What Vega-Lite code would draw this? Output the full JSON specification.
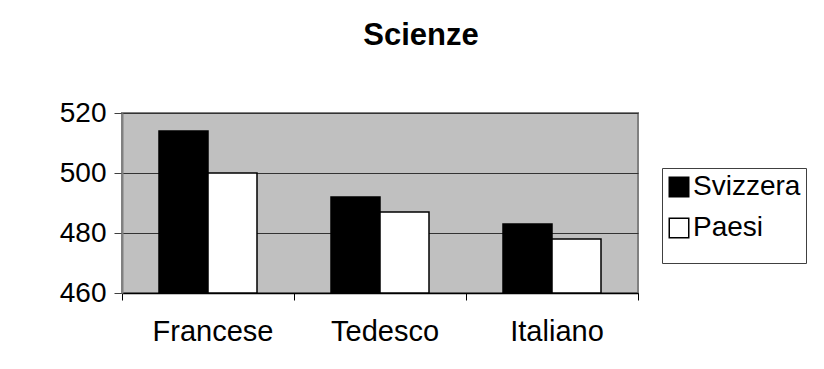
{
  "$schema": "https://vega.github.io/schema/vega-lite/v6.json",
  "width": 516,
  "height": 180,
  "autosize": {"type": "none"},
  "padding": {"left": 122, "top": 113, "right": 186, "bottom": 76},
  "background": "white",
  "title": {
    "text": "Scienze",
    "fontSize": 31,
    "fontWeight": "bold",
    "font": "Liberation Sans",
    "color": "black",
    "anchor": "middle",
    "frame": "group",
    "dx": 41,
    "offset": 47
  },
  "data": {
    "values": [
      {"lingua": "Francese", "serie": "Svizzera", "punteggio": 514},
      {"lingua": "Francese", "serie": "Paesi", "punteggio": 500},
      {"lingua": "Tedesco", "serie": "Svizzera", "punteggio": 492},
      {"lingua": "Tedesco", "serie": "Paesi", "punteggio": 487},
      {"lingua": "Italiano", "serie": "Svizzera", "punteggio": 483},
      {"lingua": "Italiano", "serie": "Paesi", "punteggio": 478}
    ]
  },
  "layer": [
    {
      "mark": {"type": "bar", "stroke": "black", "strokeWidth": 1.5},
      "encoding": {
        "x": {
          "field": "lingua",
          "type": "nominal",
          "sort": ["Francese", "Tedesco", "Italiano"],
          "scale": {"paddingInner": 0, "paddingOuter": 0},
          "axis": {
            "orient": "bottom",
            "title": null,
            "labelAngle": 0,
            "labelFontSize": 29,
            "labelColor": "black",
            "labelPadding": 24,
            "labelOffset": 5,
            "ticks": false,
            "domainColor": "black",
            "domainWidth": 1.5
          }
        },
        "xOffset": {
          "field": "serie",
          "type": "nominal",
          "sort": ["Svizzera", "Paesi"],
          "scale": {"paddingInner": 0, "paddingOuter": 0.755}
        },
        "y": {
          "field": "punteggio",
          "type": "quantitative",
          "stack": null,
          "scale": {"domain": [460, 520], "zero": false, "nice": false},
          "axis": {
            "title": null,
            "values": [460, 480, 500, 520],
            "labelFontSize": 28,
            "labelColor": "black",
            "labelPadding": 8,
            "tickSize": 8,
            "tickColor": "#404040",
            "domainColor": "#808080",
            "domainWidth": 2,
            "grid": true,
            "gridColor": "#333333",
            "gridWidth": 1
          }
        },
        "color": {
          "field": "serie",
          "type": "nominal",
          "sort": ["Svizzera", "Paesi"],
          "scale": {"domain": ["Svizzera", "Paesi"], "range": ["black", "white"]},
          "legend": {
            "orient": "none",
            "legendX": 540,
            "legendY": 55,
            "title": " ",
            "titleOrient": "bottom",
            "titleFontSize": 11,
            "fillColor": "white",
            "strokeColor": "#404040",
            "padding": 5,
            "symbolOffset": -2,
            "symbolType": "square",
            "symbolSize": 380,
            "symbolStrokeColor": "black",
            "symbolStrokeWidth": 1.5,
            "labelFontSize": 28,
            "labelColor": "black",
            "labelOffset": 0,
            "rowPadding": 13
          }
        }
      }
    },
    {
      "mark": {"type": "tick", "opacity": 0},
      "encoding": {
        "x": {
          "field": "lingua",
          "type": "nominal",
          "sort": ["Francese", "Tedesco", "Italiano"],
          "axis": {
            "orient": "bottom",
            "title": null,
            "labels": false,
            "domain": false,
            "ticks": true,
            "tickSize": 7,
            "tickColor": "black",
            "bandPosition": 1,
            "tickExtra": true
          }
        }
      }
    }
  ],
  "resolve": {"axis": {"x": "independent"}},
  "config": {
    "font": "Liberation Sans",
    "view": {"fill": "#C0C0C0", "stroke": "#808080", "strokeWidth": 2},
    "axis": {"labelFont": "Liberation Sans"},
    "legend": {"labelFont": "Liberation Sans"}
  }
}
